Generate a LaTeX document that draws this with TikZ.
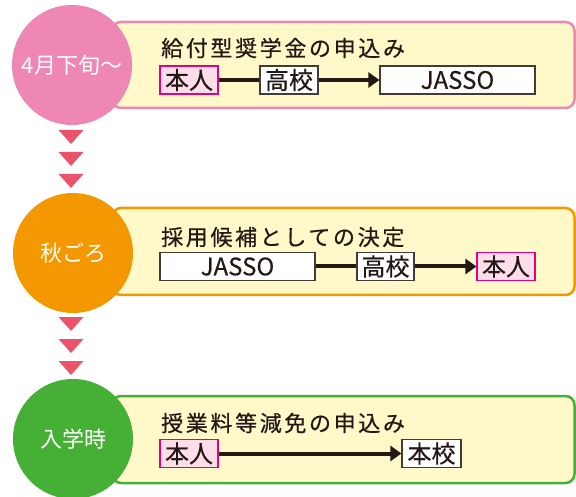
\documentclass[tikz,border=0pt]{standalone}
\usepackage{fontspec}
\setmainfont{Noto Sans CJK JP}
\newfontfamily\jptitle[LetterSpace=12,FakeBold=0.6]{Noto Sans CJK JP}
\newfontfamily\jpbox[FakeBold=0.4]{Noto Sans CJK JP}
\usetikzlibrary{arrows.meta}
\definecolor{pinkc}{HTML}{EE87B4}
\definecolor{orangec}{HTML}{F39800}
\definecolor{greenc}{HTML}{45B035}
\definecolor{paper}{HTML}{FFF9C9}
\definecolor{trired}{HTML}{E9546B}
\definecolor{selfbg}{HTML}{FCDDE9}
\definecolor{selfline}{HTML}{E4007F}
\definecolor{ink}{HTML}{231815}
\begin{document}
\begin{tikzpicture}[x=1pt,y=-1pt,
    panel/.style={line width=2.5pt,rounded corners=9pt,fill=paper},
    stage/.style={circle,minimum size=120pt,inner sep=0pt,text=white,
      font=\fontsize{22}{26}\selectfont},
    title/.style={anchor=west,inner sep=0pt,text=ink,
      font=\jptitle\fontsize{22}{26}\selectfont},
    party/.style={draw=ink!85,line width=1.2pt,fill=white,text=ink,
      minimum height=28pt,inner sep=0pt,font=\jpbox\fontsize{24}{28}\selectfont},
    self/.style={party,draw=selfline,fill=selfbg},
    link/.style={ink,line width=4pt},
    flow/.style={link,-{Triangle[length=11pt,width=15pt]}},
  ]
  \clip (0,0) rectangle (576,497);
  % panels
  \draw[panel,draw=pinkc] (112,22) rectangle (574.5,108);
  \draw[panel,draw=orangec] (112,208) rectangle (574.5,295);
  \draw[panel,draw=greenc] (112,396) rectangle (574.5,483);
  % stages
  \node[stage,fill=pinkc] (apr) at (72,65) {4月下旬～};
  \node[stage,fill=orangec] (aut) at (73,253) {秋ごろ};
  \node[stage,fill=greenc] (ent) at (73,439) {入学時};
  % step marks
  \foreach \y in {130,152,174,317,339,361}
    \fill[trired] (58.5,\y) -- (83.5,\y) -- (71,\y+14) -- cycle;
  % apply for grant
  \node[title] (t1) at (161,48) {給付型奨学金の申込み};
  \node[self,minimum width=58pt] (me1) at (189,80) {本人};
  \node[party,minimum width=58pt] (hs1) at (289,80) {高校};
  \node[party,minimum width=155pt] (ja1) at (457.5,80) {JASSO};
  \draw[link] (me1) -- (hs1);
  \draw[flow] (hs1) -- (ja1);
  % decision
  \node[title] (t2) at (161,237) {採用候補としての決定};
  \node[party,minimum width=155pt] (ja2) at (237.5,266.5) {JASSO};
  \node[party,minimum width=57pt] (hs2) at (385.5,266.5) {高校};
  \node[self,minimum width=58pt] (me2) at (506,266.5) {本人};
  \draw[link] (ja2) -- (hs2);
  \draw[flow] (hs2) -- (me2);
  % tuition
  \node[title] (t3) at (161,423) {授業料等減免の申込み};
  \node[self,minimum width=58pt] (me3) at (189,453.5) {本人};
  \node[party,minimum width=59pt] (us3) at (431.5,453.5) {本校};
  \draw[flow] (me3) -- (us3);
\end{tikzpicture}
\end{document}
